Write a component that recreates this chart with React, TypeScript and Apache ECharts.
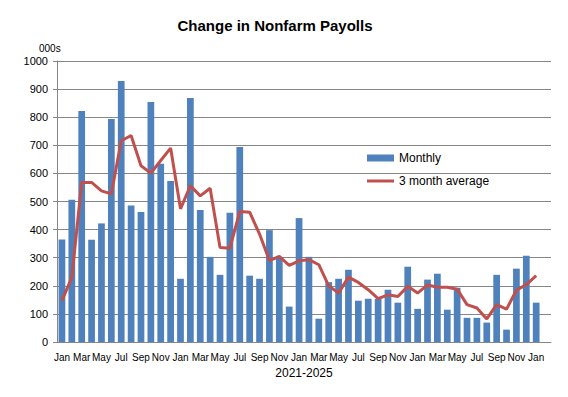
import React, { useEffect, useRef } from "react";
import * as echarts from "echarts";

const months = ["Jan","Feb","Mar","Apr","May","Jun","Jul","Aug","Sep","Oct","Nov","Dec"];
const categories: string[] = [];
for (let i = 0; i < 50; i++) categories.push(months[i % 12]);

const monthly = [
  365, 506, 822, 364, 422, 794, 929, 486, 463, 854, 634, 573,
  225, 868, 470, 303, 239, 460, 694, 236, 225, 398, 303, 126,
  441, 303, 83, 213, 225, 257, 147, 154, 153, 186, 140, 268,
  118, 222, 243, 115, 193, 86, 86, 69, 239, 44, 261, 307,
  140, null,
];

const avg3 = [
  147, 230, 568, 568, 538, 527, 716, 735, 627, 601, 646, 690,
  474, 556, 520, 547, 336, 334, 464, 462, 384, 290, 305, 273,
  289, 293, 275, 200, 174, 231, 212, 186, 154, 168, 162, 198,
  174, 203, 195, 195, 188, 133, 121, 82, 133, 117, 184, 204,
  236, null,
];

const yTicks = { min: 0, max: 1000, interval: 100 };

export default function App() {
  const ref = useRef<HTMLDivElement>(null);
  useEffect(() => {
    if (!ref.current) return;
    const chart = echarts.init(ref.current, null, { renderer: "svg" });
    const font = "Liberation Sans";
    chart.setOption({
      animation: false,
      backgroundColor: "#ffffff",
      textStyle: { fontFamily: font },
      title: {
        text: "Change in Nonfarm Payolls",
        left: 270,
        textAlign: "center",
        top: 13,
        textStyle: { fontFamily: font, fontSize: 15, fontWeight: "bold", color: "#000" },
      },
      graphic: [
        {
          type: "text",
          left: 39,
          top: 43,
          style: { text: "000s", fontFamily: font, fontSize: 10, fill: "#000" },
        },
      ],
      legend: {
        orient: "vertical",
        left: 367,
        top: 152,
        padding: 0,
        itemGap: 11,
        itemWidth: 27,
        itemHeight: 7,
        symbolKeepAspect: true,
        textStyle: { fontFamily: font, fontSize: 12, color: "#000" },
        data: [
          { name: "Monthly", icon: "rect" },
          { name: "3 month average", icon: "path://M0,0 L27,0 L27,3 L0,3 Z" },
        ],
      },
      grid: { left: 57, right: 17, top: 61, bottom: 55, containLabel: false },
      xAxis: {
        type: "category",
        data: categories,
        name: "2021-2025",
        nameLocation: "middle",
        nameGap: 25,
        nameTextStyle: { fontFamily: font, fontSize: 12, color: "#000" },
        axisLine: { lineStyle: { color: "#868686" } },
        axisTick: { show: false },
        axisLabel: { interval: 1, fontFamily: font, fontSize: 10, color: "#000", margin: 10 },
      },
      yAxis: {
        type: "value",
        min: yTicks.min,
        max: yTicks.max,
        interval: yTicks.interval,
        axisLine: { show: true, lineStyle: { color: "#868686" } },
        axisTick: { show: true, length: 4, lineStyle: { color: "#868686" } },
        axisLabel: { fontFamily: font, fontSize: 11, color: "#000", margin: 9, formatter: (v: number) => String(v) },
        splitLine: { lineStyle: { color: "#868686", width: 1 } },
      },
      series: [
        {
          name: "Monthly",
          type: "bar",
          data: monthly,
          barCategoryGap: "32%",
          itemStyle: { color: "#4F81BD" },
        },
        {
          name: "3 month average",
          type: "line",
          data: avg3,
          symbol: "none",
          lineStyle: { color: "#C0504D", width: 3 },
          itemStyle: { color: "#C0504D" },
        },
      ],
    });
    return () => chart.dispose();
  }, []);
  return <div ref={ref} style={{ width: 568, height: 397, margin: -8 }} />;
}
